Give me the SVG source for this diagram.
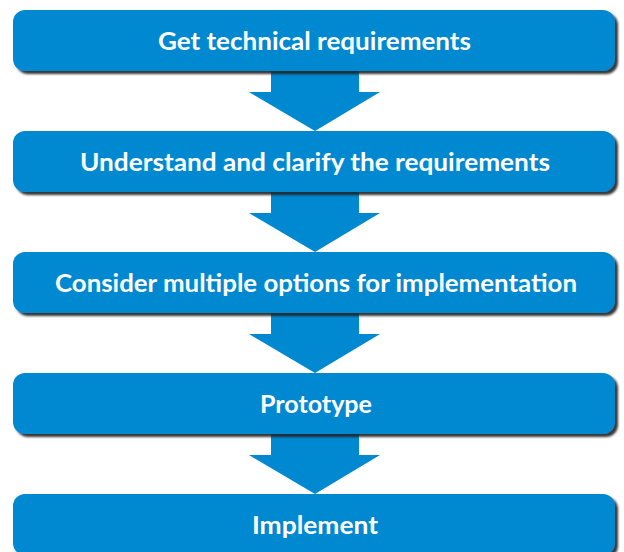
<svg xmlns="http://www.w3.org/2000/svg" width="624" height="552" viewBox="0 0 624 552">
  <defs>
    <filter id="shadow" x="-5%" y="-20%" width="110%" height="150%">
      <feGaussianBlur in="SourceAlpha" stdDeviation="1"/>
      <feOffset dx="3" dy="3" result="b"/>
      <feFlood flood-color="#222" flood-opacity="0.9"/>
      <feComposite in2="b" operator="in"/>
      <feMerge><feMergeNode/><feMergeNode in="SourceGraphic"/></feMerge>
    </filter>
  </defs>
  <style>
    .box { fill: #0089d1; filter: url(#shadow); }
    .arrow { fill: #0089d1; }
    .label { fill: #ffffff; font-family: "Lato", "Liberation Sans", sans-serif; font-weight: bold; font-size: 25.5px; text-anchor: middle; }
  </style>
  <rect width="624" height="552" fill="#ffffff"/>

  <!-- connectors: block arrows between steps -->
  <g id="connectors">
    <polygon class="arrow" points="271,68 359,68 359,92 380,92 315,131 249,92 271,92"/>
    <polygon class="arrow" points="271,189 359,189 359,213 380,213 315,252 249,213 271,213"/>
    <polygon class="arrow" points="271,310 359,310 359,334 380,334 315,373 249,334 271,334"/>
    <polygon class="arrow" points="271,431 359,431 359,455 380,455 315,494 249,455 271,455"/>
  </g>

  <g id="step1">
    <rect class="box" x="13" y="10" width="602" height="61" rx="12"/>
    <text class="label" x="314.5" y="50" textLength="313" lengthAdjust="spacingAndGlyphs">Get technical requirements</text>
  </g>
  <g id="step2">
    <rect class="box" x="13" y="131" width="602" height="61" rx="12"/>
    <text class="label" x="315" y="171" textLength="470" lengthAdjust="spacingAndGlyphs">Understand and clarify the requirements</text>
  </g>
  <g id="step3">
    <rect class="box" x="13" y="252" width="602" height="61" rx="12"/>
    <text class="label" x="316" y="292" textLength="522" lengthAdjust="spacingAndGlyphs">Consider multiple options for implementation</text>
  </g>
  <g id="step4">
    <rect class="box" x="13" y="373" width="602" height="61" rx="12"/>
    <text class="label" x="316" y="413" textLength="112" lengthAdjust="spacingAndGlyphs">Prototype</text>
  </g>
  <g id="step5">
    <rect class="box" x="13" y="494" width="602" height="61" rx="12"/>
    <text class="label" x="315" y="534" textLength="126" lengthAdjust="spacingAndGlyphs">Implement</text>
  </g>
</svg>
